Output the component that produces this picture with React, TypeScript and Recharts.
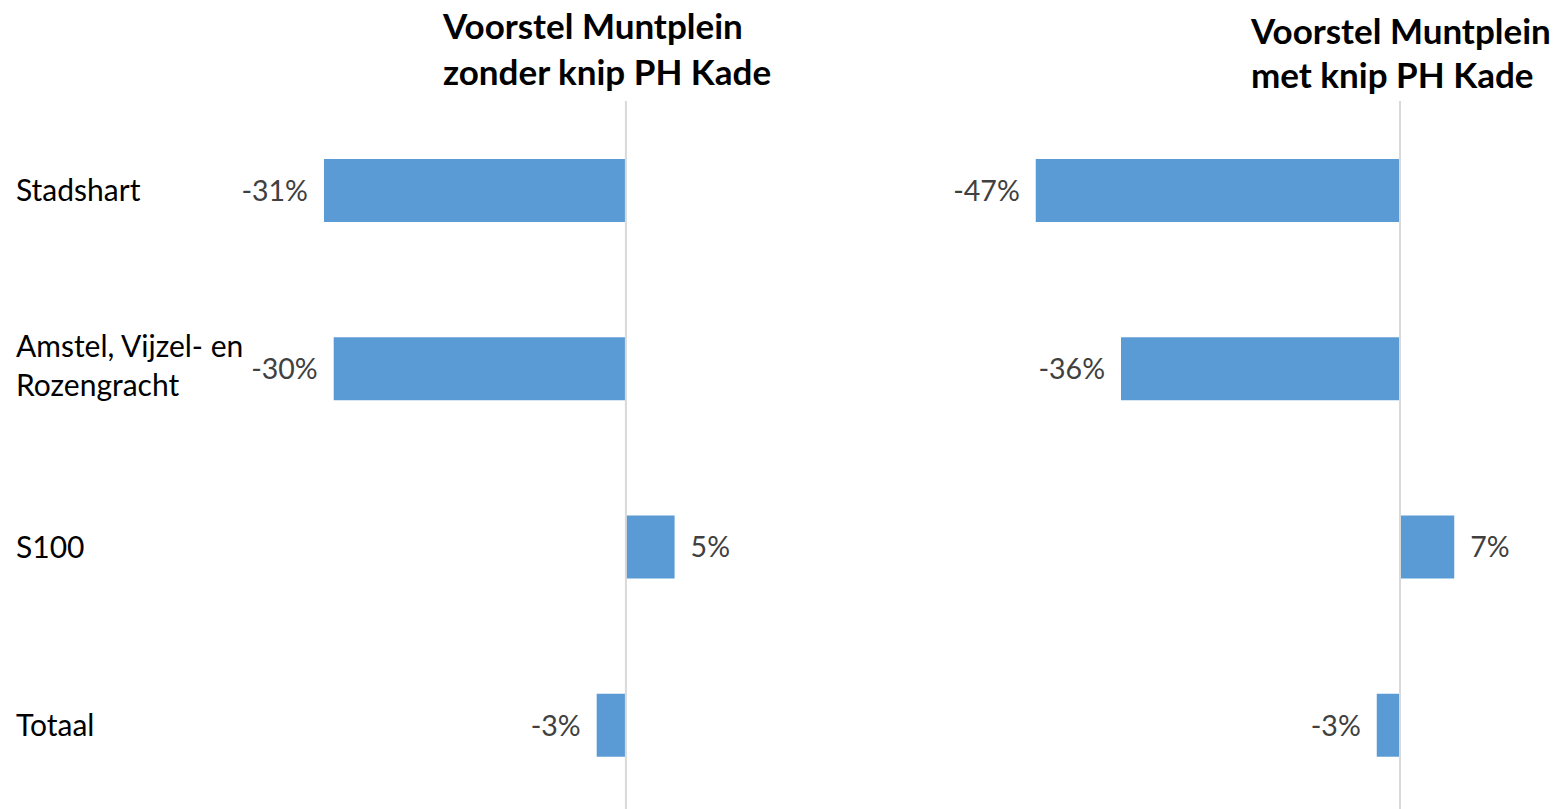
import React from 'react';
import { BarChart, Bar, XAxis, YAxis, ReferenceLine, LabelList } from 'recharts';

const categories = ['Stadshart', 'Amstel, Vijzel- en\nRozengracht', 'S100', 'Totaal'];
const zonderKnip = [-31, -30, 5, -3];
const metKnip = [-47, -36, 7, -3];

const FONT = "Lato, 'Open Sans', sans-serif";
const BAR_COLOR = '#5B9BD5';

const data = categories.map((name, i) => ({ name, zonder: zonderKnip[i], met: metKnip[i] }));

// category names sit at the far left of the page, wrapped on "\n"
const CategoryTick = (props: any) => {
  const { y, payload } = props;
  const lines = String(payload.value).split('\n');
  const lh = 39;
  const first = lines.length > 1 ? y - 11 : y + 11;
  return (
    <text x={16} y={first} fontSize={30} fill="#000" fontFamily={FONT}>
      {lines.map((l, i) => (
        <tspan key={i} x={16} y={first + i * lh}>{l}</tspan>
      ))}
    </text>
  );
};

const ValueLabel = (props: any) => {
  const { x, y, width, height, value } = props;
  const left = Math.min(x, x + width);
  const right = Math.max(x, x + width);
  const neg = value < 0;
  return (
    <text
      x={neg ? left - 16 : right + 16}
      y={y + height / 2}
      dy="0.36em"
      textAnchor={neg ? 'end' : 'start'}
      fontSize={28.5}
      fill="#404040"
      fontFamily={FONT}
    >
      {value}%
    </text>
  );
};

const titleStyle: React.CSSProperties = {
  position: 'absolute',
  fontFamily: FONT,
  fontWeight: 700,
  fontSize: 35,
  lineHeight: '46px',
  color: '#000',
  whiteSpace: 'pre',
};

export default function App() {
  return (
    <div style={{ position: 'absolute', left: 0, top: 0, width: 1558, height: 809, overflow: 'hidden', background: '#fff' }}>
      {/* left: zonder knip, with the category labels */}
      <div style={{ position: 'absolute', left: 0, top: 0 }}>
        <BarChart width={772} height={815} data={data} layout="vertical" margin={{ top: 101, right: 0, bottom: 1, left: 0 }}>
          <XAxis type="number" domain={[-35, 15]} hide />
          <YAxis type="category" dataKey="name" width={285} axisLine={false} tickLine={false} tick={CategoryTick} interval={0} />
          <Bar dataKey="zonder" fill={BAR_COLOR} barSize={63} isAnimationActive={false}>
            <LabelList dataKey="zonder" content={ValueLabel} />
          </Bar>
          <ReferenceLine x={0} stroke="#d9d9d9" strokeWidth={2} />
        </BarChart>
      </div>

      {/* right: met knip */}
      <div style={{ position: 'absolute', left: 900, top: 0 }}>
        <BarChart width={658} height={815} data={data} layout="vertical" margin={{ top: 101, right: 3, bottom: 1, left: 112.5 }}>
          <XAxis type="number" domain={[-50, 20]} hide />
          <YAxis type="category" dataKey="name" hide />
          <Bar dataKey="met" fill={BAR_COLOR} barSize={63} isAnimationActive={false}>
            <LabelList dataKey="met" content={ValueLabel} />
          </Bar>
          <ReferenceLine x={0} stroke="#d9d9d9" strokeWidth={2} />
        </BarChart>
      </div>

      <div style={{ ...titleStyle, left: 443, top: 2 }}>{'Voorstel Muntplein\nzonder knip PH Kade'}</div>
      <div style={{ ...titleStyle, left: 1251, top: 8, lineHeight: '44px' }}>{'Voorstel Muntplein\nmet knip PH Kade'}</div>
    </div>
  );
}
